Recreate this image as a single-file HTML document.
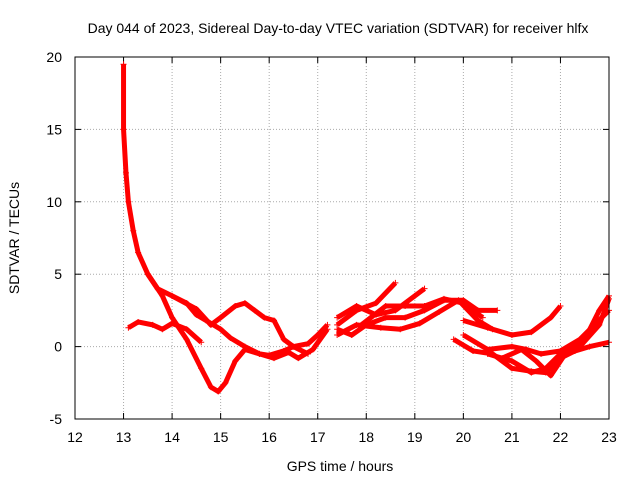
<!DOCTYPE html>
<html><head><meta charset="utf-8"><style>
body{margin:0;background:#fff}
text{font-family:"Liberation Sans",sans-serif;font-size:14px;fill:#000}
</style></head><body>
<svg id="c" width="640" height="480">
<text x="338" y="33" text-anchor="middle">Day 044 of 2023, Sidereal Day-to-day VTEC variation (SDTVAR) for receiver hlfx</text>
<text x="340" y="471" text-anchor="middle">GPS time / hours</text>
<text transform="translate(19,238) rotate(-90)" text-anchor="middle">SDTVAR / TECUs</text>
<g id="grid"></g><g id="marks"></g>
<rect x="75" y="57" width="534" height="362" fill="none" stroke="#000"/>
</svg>
<script>
const xTicks=[12,13,14,15,16,17,18,19,20,21,22,23];
const yTicks=[-5,0,5,10,15,20];
const s1=[[13.0,19.5],[13.0,15],[13.05,12],[13.1,10],[13.2,8],[13.3,6.5],[13.5,5],[13.7,4],[14.0,3.5],[14.3,3],[14.5,2.2],[14.7,1.8],[15.0,1.2],[15.2,0.6],[15.5,0],[15.8,-0.5],[16.0,-0.6],[16.3,-0.3],[16.5,0],[16.8,0.2],[17.0,0.8],[17.2,1.5]];
const s2=[[13.5,5],[13.8,3.5],[14.0,2],[14.3,0.5],[14.6,-1.5],[14.8,-2.8],[14.95,-3.1],[15.1,-2.5],[15.3,-1],[15.5,-0.2],[15.8,-0.5],[16.1,-0.8],[16.4,-0.4],[16.6,-0.8],[16.9,-0.2],[17.2,1.2]];
const s3=[[13.1,1.3],[13.3,1.7],[13.6,1.5],[13.8,1.2],[14.0,1.6],[14.3,1.2],[14.6,0.3]];
const s4=[[14.0,3.5],[14.5,2.6],[14.8,1.5],[15.0,2],[15.3,2.8],[15.5,3],[15.7,2.5],[15.9,2],[16.1,1.8],[16.3,0.5],[16.5,0],[16.8,-0.5]];
const s5=[[17.4,1.5],[17.8,2.5],[18.2,3],[18.6,4.4]];
const s6=[[17.4,2],[17.8,2.8],[18.2,2.2],[18.6,2.5],[19.0,3.5],[19.2,4]];
const s7=[[17.4,1.2],[17.7,0.8],[18.0,1.5],[18.4,2],[18.8,2],[19.2,2.5],[19.6,3.2],[20.0,3.2],[20.3,2.5],[20.7,2.5]];
const s8=[[17.4,0.8],[17.8,1.5],[18.3,1.3],[18.7,1.2],[19.1,1.6],[19.5,2.4],[19.9,3.2],[20.3,1.8],[20.6,1.2]];
const s9=[[17.9,1.5],[18.4,2.8],[18.8,2.8],[19.2,2.8],[19.6,3.3],[20.0,3],[20.4,2]];
const s10=[[19.8,0.5],[20.2,-0.3],[20.6,-0.5],[21.0,-1.5],[21.4,-1.7],[21.7,-1.8],[22.0,-0.8],[22.3,-0.3],[22.6,0],[23,0.3]];
const s11=[[20.0,0.8],[20.5,-0.2],[21.0,0],[21.3,-0.2],[21.6,-0.5],[22.0,-0.3],[22.4,0.5],[22.7,1.5],[23,2.5]];
const s12=[[20.0,1.8],[20.5,1.3],[21.0,0.8],[21.4,1],[21.8,2],[22.0,2.8]];
const s13=[[20.5,-0.5],[21.0,-1.0],[21.4,-1.8],[21.7,-1.5],[22.0,-0.5],[22.4,0],[22.8,1.5],[23,3.3]];
const s14=[[20.8,-0.8],[21.2,-0.2],[21.5,-1],[21.8,-2],[22.1,-0.5],[22.5,0.5],[22.8,2.5],[23,3.5]];
const series=[s1,s2,s3,s4,s5,s6,s7,s8,s9,s10,s11,s12,s13,s14];
const X=v=>75+(v-12)*534/11, Y=v=>419-(v+5)*362/25;
const NS="http://www.w3.org/2000/svg";
const g=document.getElementById('grid'), m=document.getElementById('marks');
function mk(p,tag,a){const e=document.createElementNS(NS,tag);for(const k in a)e.setAttribute(k,a[k]);p.appendChild(e);return e;}
xTicks.forEach(t=>{const x=X(t);
 const l=mk(g,'line',{x1:x,x2:x,y1:57,y2:419,stroke:'#aaa','stroke-dasharray':'1,2'});
 
 
 mk(g,'line',{x1:x,x2:x,y1:419,y2:413,stroke:'#000'});mk(g,'line',{x1:x,x2:x,y1:57,y2:63,stroke:'#000'});
 const tx=mk(g,'text',{x:x,y:442,'text-anchor':'middle'});tx.textContent=t;
 
 });
yTicks.forEach(t=>{const y=Y(t);
 const l=mk(g,'line',{x1:75,x2:609,y1:y,y2:y,stroke:'#aaa','stroke-dasharray':'1,2'});
 
 
 mk(g,'line',{x1:75,x2:81,y1:y,y2:y,stroke:'#000'});mk(g,'line',{x1:609,x2:603,y1:y,y2:y,stroke:'#000'});
 const tx=mk(g,'text',{x:62,y:y+5,'text-anchor':'end'});tx.textContent=t;
 
 });
series.forEach((s,i)=>{
 const pl=mk(m,'polyline',{points:s.map(p=>X(p[0])+','+Y(p[1])).join(' '),fill:'none',stroke:'#f00','stroke-width':5,'stroke-linejoin':'round'});
 
 
 s.forEach(p=>{const x=X(p[0]),y=Y(p[1]);
  const c=mk(m,'path',{d:`M${x-3},${y}h6M${x},${y-3}v6`,stroke:'#f00','stroke-width':1});
  
  });
});
</script>
</body></html>
